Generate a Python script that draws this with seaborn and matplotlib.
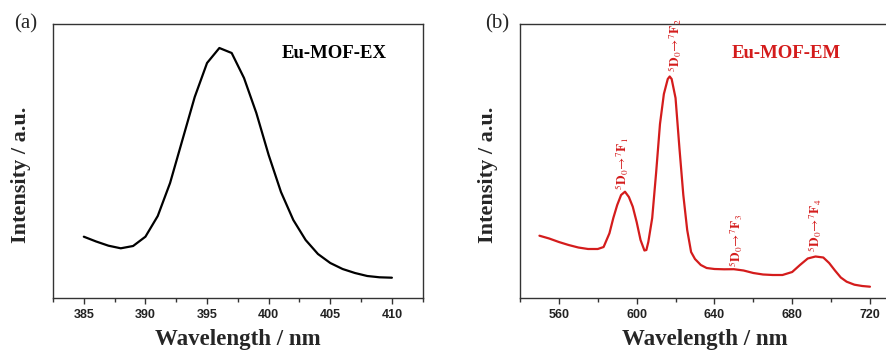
import matplotlib
matplotlib.use("Agg")
import matplotlib.pyplot as plt
from matplotlib.ticker import MultipleLocator
import seaborn as sns
import pandas as pd

# ---- data ----
ex_wavelength = [385, 386, 387, 388, 389, 390, 391, 392, 393, 394, 395, 396, 397,
                 398, 399, 400, 401, 402, 403, 404, 405, 406, 407, 408, 409, 410]
ex_intensity = [61.3, 56.5, 52.3, 49.7, 52.0, 61.3, 82.0, 115.0, 158.0, 201.0, 235.0,
                250.0, 245.0, 220.0, 185.0, 143.0, 106.0, 78.0, 58.0, 44.0, 35.0,
                29.0, 25.0, 22.0, 20.7, 20.3]

em_wavelength = [550, 555, 560, 565, 570, 575, 580, 583, 586, 588, 590, 592, 594, 596,
                 598, 600, 602, 604, 605, 606, 608, 610, 612, 614, 616, 617, 618, 620,
                 622, 624, 626, 628, 630, 633, 636, 640, 645, 650, 655, 660, 665, 670,
                 675, 680, 684, 688, 692, 696, 699, 702, 705, 708, 712, 716, 720]
em_intensity = [62.3, 59.5, 56.0, 53.0, 50.5, 49.0, 49.0, 51.0, 64.7, 80.0, 93.0, 103.0,
                106.3, 101.0, 91.3, 76.0, 58.0, 47.5, 48.0, 56.0, 80.0, 125.0, 174.0,
                204.0, 219.0, 221.5, 219.0, 200.0, 150.0, 103.0, 68.0, 46.0, 39.0, 33.0,
                30.0, 29.0, 28.7, 28.8, 27.5, 25.0, 23.5, 23.0, 23.0, 26.0, 33.0, 39.5,
                41.5, 40.5, 35.0, 27.5, 20.5, 16.3, 13.3, 12.0, 11.3]

transition_labels = [r"$^{5}\mathbf{D}_{0}\!\rightarrow\!^{7}\mathbf{F}_{1}$",
                     r"$^{5}\mathbf{D}_{0}\!\rightarrow\!^{7}\mathbf{F}_{2}$",
                     r"$^{5}\mathbf{D}_{0}\!\rightarrow\!^{7}\mathbf{F}_{3}$",
                     r"$^{5}\mathbf{D}_{0}\!\rightarrow\!^{7}\mathbf{F}_{4}$"]
transition_x = [592.8, 619.6, 651.3, 691.7]
transition_y = [108, 226, 31, 46]

ex_ticks = [385, 390, 395, 400, 405, 410]
em_ticks = [560, 600, 640, 680, 720]

# ---- style ----
sns.set_theme(style="ticks")
plt.rcParams["font.family"] = ["Liberation Serif", "DejaVu Serif"]
plt.rcParams["mathtext.fontset"] = "stix"
plt.rcParams["axes.edgecolor"] = "#333333"
plt.rcParams["axes.linewidth"] = 1.0

RED = "#d41c1c"

fig = plt.figure(figsize=(8.86, 3.53), dpi=100)
ax1 = fig.add_axes([53 / 886, 55 / 353, 369.7 / 886, 274 / 353])
ax2 = fig.add_axes([520 / 886, 55 / 353, 369.4 / 886, 274 / 353])

df_ex = pd.DataFrame({"wl": ex_wavelength, "I": ex_intensity})
df_em = pd.DataFrame({"wl": em_wavelength, "I": em_intensity})

sns.lineplot(data=df_ex, x="wl", y="I", ax=ax1, color="black", linewidth=1.6)
sns.lineplot(data=df_em, x="wl", y="I", ax=ax2, color=RED, linewidth=1.6)

for ax, xlim, ticks, minor in [(ax1, (382.5, 412.5), ex_ticks, 2.5),
                               (ax2, (540, 730), em_ticks, 20)]:
    ax.set_xlim(*xlim)
    ax.set_ylim(0, 274)
    ax.set_xticks(ticks)
    ax.xaxis.set_minor_locator(MultipleLocator(minor))
    ax.set_yticks([])
    ax.tick_params(axis="x", which="major", direction="out", length=4, width=1,
                   color="#333333", pad=4)
    ax.tick_params(axis="x", which="minor", direction="out", length=3, width=1,
                   color="#333333")
    for lab in ax.get_xticklabels():
        lab.set_fontfamily("Liberation Sans")
        lab.set_fontweight("bold")
        lab.set_fontsize(9)
        lab.set_color("#222222")
    ax.set_xlabel("Wavelength / nm", fontsize=16.5, fontweight="bold")
    ax.set_ylabel("Intensity / a.u.", fontsize=16, fontweight="bold")
    ax.xaxis.set_label_coords(0.5, -(329 - 298) / 274)
    ax.yaxis.set_label_coords(-22 / 369.7, (298 - 175) / 274)
    for s in ax.spines.values():
        s.set_visible(True)

ax1.text(405.3, 245, "Eu-MOF-EX", ha="center", va="center",
         fontsize=13.5, fontweight="bold", color="black")
ax2.text(676.7, 245, "Eu-MOF-EM", ha="center", va="center", fontsize=13.5,
         fontweight="bold", color=RED)

for lab, x, y in zip(transition_labels, transition_x, transition_y):
    ax2.text(x, y, lab, rotation=90, ha="center", va="bottom", fontsize=9.5,
             color=RED)

fig.text(26 / 886, 1 - 24 / 353, "(a)", fontsize=15, ha="center", va="center")
fig.text(497 / 886, 1 - 24 / 353, "(b)", fontsize=15, ha="center", va="center")

fig.savefig("out.png", dpi=100)
